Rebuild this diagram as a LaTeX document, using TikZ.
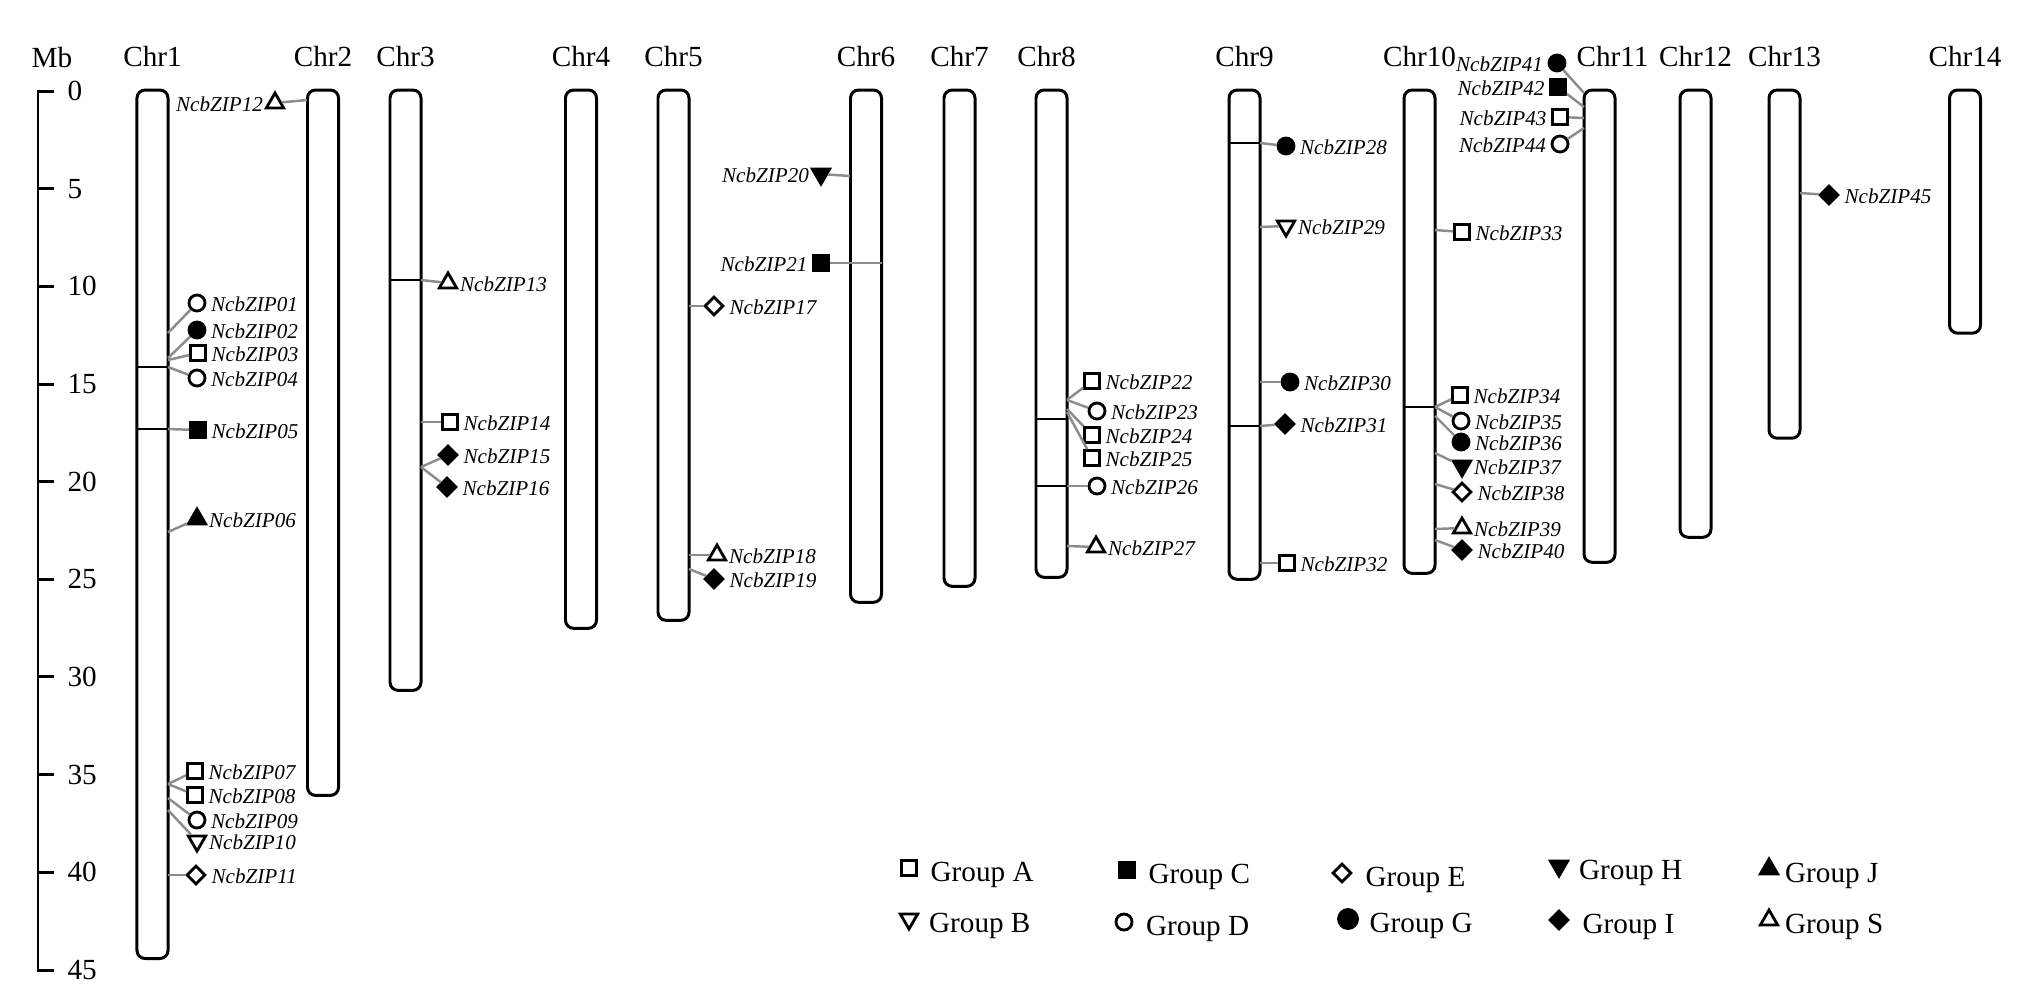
\documentclass[tikz,border=0pt]{standalone}
\usepackage{fontspec}
\setmainfont{Liberation Serif}
\usetikzlibrary{positioning, shapes.geometric}

\begin{document}
\begin{tikzpicture}[x=0.01cm, y=-0.01cm, node distance=0.04cm]
        % Estilos para cromosomas, marcadores y textos
        \tikzstyle{chromosome} = [draw, rectangle, rounded corners=2.3pt, line width=0.85pt, minimum width=0.31cm, inner sep=0pt, outer sep=0pt, anchor=north]
        \tikzstyle{chrLabel} = [inner sep=0pt, font=\fontsize{8.3}{10}\selectfont]
        \tikzstyle{gene} = [inner sep=0pt, yshift=-0.5pt, font=\fontsize{6}{7}\selectfont\itshape]
        \tikzstyle{legendText} = [chrLabel, yshift=-2pt]
        \tikzstyle{link} = [draw, black!45, line width=0.7pt]
        \tikzstyle{locus} = [draw, line width=0.3pt]
        \tikzstyle{ruler} = [draw, line width=0.85pt]
        \tikzstyle{symbol} = [draw, line width=0.8pt, inner sep=0pt]
        \tikzstyle{openSquare} = [symbol, rectangle, minimum size=0.15cm]
        \tikzstyle{fullSquare} = [openSquare, fill=black]
        \tikzstyle{openCircle} = [symbol, circle, minimum size=0.16cm]
        \tikzstyle{fullCircle} = [openCircle, fill=black]
        \tikzstyle{openDiamond} = [symbol, diamond, minimum width=0.19cm, minimum height=0.19cm]
        \tikzstyle{fullDiamond} = [openDiamond, fill=black]
        \tikzstyle{openTriangle} = [symbol, regular polygon, regular polygon sides=3, minimum size=0.2cm]
        \tikzstyle{fullTriangle} = [openTriangle, fill=black]
        \tikzstyle{openInvTriangle} = [openTriangle, shape border rotate=180]
        \tikzstyle{fullInvTriangle} = [openInvTriangle, fill=black]

        \useasboundingbox (0,0) rectangle (2027,996);

        % Escala en Mb
        \node [chrLabel, anchor=base] at (52,67) (mbLabel) {Mb};
        \draw [ruler] (54,91) -- (38,91) -- (38,970) -- (54,970);
        \draw [ruler] (38,91) -- (54,91) node [chrLabel, anchor=west, xshift=0.12cm] (mb0) {0};
        \draw [ruler] (38,188.7) -- (54,188.7) node [chrLabel, anchor=west, xshift=0.12cm] (mb5) {5};
        \draw [ruler] (38,286.3) -- (54,286.3) node [chrLabel, anchor=west, xshift=0.12cm] (mb10) {10};
        \draw [ruler] (38,384) -- (54,384) node [chrLabel, anchor=west, xshift=0.12cm] (mb15) {15};
        \draw [ruler] (38,481.6) -- (54,481.6) node [chrLabel, anchor=west, xshift=0.12cm] (mb20) {20};
        \draw [ruler] (38,579.3) -- (54,579.3) node [chrLabel, anchor=west, xshift=0.12cm] (mb25) {25};
        \draw [ruler] (38,676.9) -- (54,676.9) node [chrLabel, anchor=west, xshift=0.12cm] (mb30) {30};
        \draw [ruler] (38,774.6) -- (54,774.6) node [chrLabel, anchor=west, xshift=0.12cm] (mb35) {35};
        \draw [ruler] (38,872.2) -- (54,872.2) node [chrLabel, anchor=west, xshift=0.12cm] (mb40) {40};
        \draw [ruler] (38,970) -- (54,970) node [chrLabel, anchor=west, xshift=0.12cm] (mb45) {45};

        % Cromosomas
        \node [chromosome, minimum height=8.68cm] at (152.5,90) (chr1) {};
        \node [chromosome, minimum height=7.05cm] at (323,90) (chr2) {};
        \node [chromosome, minimum height=6.00cm] at (405.5,90) (chr3) {};
        \node [chromosome, minimum height=5.38cm] at (581,90) (chr4) {};
        \node [chromosome, minimum height=5.30cm] at (673.5,90) (chr5) {};
        \node [chromosome, minimum height=5.12cm] at (866,90) (chr6) {};
        \node [chromosome, minimum height=4.96cm] at (959.5,90) (chr7) {};
        \node [chromosome, minimum height=4.87cm] at (1051.5,90) (chr8) {};
        \node [chromosome, minimum height=4.89cm] at (1244.5,90) (chr9) {};
        \node [chromosome, minimum height=4.83cm] at (1419.5,90) (chr10) {};
        \node [chromosome, minimum height=4.72cm] at (1599.5,90) (chr11) {};
        \node [chromosome, minimum height=4.47cm] at (1695.5,90) (chr12) {};
        \node [chromosome, minimum height=3.48cm] at (1784.5,90) (chr13) {};
        \node [chromosome, minimum height=2.43cm] at (1965,90) (chr14) {};
        \node [chrLabel, above=0.23cm of chr1] (lblChr1) {Chr1};
        \node [chrLabel, above=0.23cm of chr2] (lblChr2) {Chr2};
        \node [chrLabel, above=0.23cm of chr3] (lblChr3) {Chr3};
        \node [chrLabel, above=0.23cm of chr4] (lblChr4) {Chr4};
        \node [chrLabel, above=0.23cm of chr5] (lblChr5) {Chr5};
        \node [chrLabel, above=0.23cm of chr6] (lblChr6) {Chr6};
        \node [chrLabel, above=0.23cm of chr7] (lblChr7) {Chr7};
        \node [chrLabel, above=0.23cm of chr8, xshift=-0.05cm] (lblChr8) {Chr8};
        \node [chrLabel, above=0.23cm of chr9] (lblChr9) {Chr9};
        \node [chrLabel, above=0.23cm of chr10] (lblChr10) {Chr10};
        \node [chrLabel, above=0.23cm of chr11, xshift=0.13cm] (lblChr11) {Chr11};
        \node [chrLabel, above=0.23cm of chr12] (lblChr12) {Chr12};
        \node [chrLabel, above=0.23cm of chr13] (lblChr13) {Chr13};
        \node [chrLabel, above=0.23cm of chr14] (lblChr14) {Chr14};

        % Puntos de anclaje en los cromosomas
        \node at (168,333) [coordinate] (p01){};
        \node at (168,358) [coordinate] (p02){};
        \node at (168,360) [coordinate] (p03){};
        \node at (168,367) [coordinate] (p04){};
        \node at (168,429) [coordinate] (p05){};
        \node at (168,532) [coordinate] (p06){};
        \node at (168,784) [coordinate] (p07){};
        \node at (168,798) [coordinate] (p09){};
        \node at (168,810) [coordinate] (p10){};
        \node at (168,875) [coordinate] (p11){};
        \node at (307,100) [coordinate] (p12){};
        \node at (421,280) [coordinate] (p13){};
        \node at (421,422) [coordinate] (p14){};
        \node at (421,467) [coordinate] (p15){};
        \node at (689,306) [coordinate] (p17){};
        \node at (689,555) [coordinate] (p18){};
        \node at (689,569) [coordinate] (p19){};
        \node at (850,176) [coordinate] (p20){};
        \node at (850,263) [coordinate] (p21){};
        \node at (1067,400) [coordinate] (p22){};
        \node at (1067,409) [coordinate] (p24){};
        \node at (1067,412) [coordinate] (p25){};
        \node at (1067,419) [coordinate] (q22){};
        \node at (1067,486) [coordinate] (p26){};
        \node at (1067,546) [coordinate] (p27){};
        \node at (1260,143) [coordinate] (p28){};
        \node at (1260,227) [coordinate] (p29){};
        \node at (1260,382) [coordinate] (p30){};
        \node at (1260,426) [coordinate] (p31){};
        \node at (1260,563) [coordinate] (p32){};
        \node at (1435,230) [coordinate] (p33){};
        \node at (1435,407) [coordinate] (p34){};
        \node at (1435,416) [coordinate] (p36){};
        \node at (1435,453) [coordinate] (p37){};
        \node at (1435,484) [coordinate] (p38){};
        \node at (1435,529) [coordinate] (p39){};
        \node at (1435,540) [coordinate] (p40){};
        \node at (1584,93) [coordinate] (p41){};
        \node at (1584,107) [coordinate] (p42){};
        \node at (1584,118) [coordinate] (p43){};
        \node at (1584,128) [coordinate] (p44){};
        \node at (1800,193) [coordinate] (p45){};

        % Genes
        \node [openCircle] at (197,303) (m01) {};
        \node [fullCircle] at (197,330) (m02) {};
        \node [openSquare] at (198,353) (m03) {};
        \node [openCircle] at (197,378) (m04) {};
        \node [fullSquare] at (198,430) (m05) {};
        \node [fullTriangle] at (197,519) (m06) {};
        \node [openSquare] at (195,771) (m07) {};
        \node [openSquare] at (195,795) (m08) {};
        \node [openCircle] at (197,820) (m09) {};
        \node [openInvTriangle] at (197,841) (m10) {};
        \node [openDiamond] at (196,875) (m11) {};
        \node [openTriangle] at (275,103) (m12) {};
        \node [openTriangle] at (448,283) (m13) {};
        \node [openSquare] at (450,422) (m14) {};
        \node [fullDiamond] at (448,455) (m15) {};
        \node [fullDiamond] at (447,487) (m16) {};
        \node [openDiamond] at (714,306) (m17) {};
        \node [openTriangle] at (717,555) (m18) {};
        \node [fullDiamond] at (714,579) (m19) {};
        \node [fullInvTriangle] at (821,174) (m20) {};
        \node [fullSquare] at (821,263) (m21) {};
        \node [openSquare] at (1092,381) (m22) {};
        \node [openCircle] at (1097,411) (m23) {};
        \node [openSquare] at (1092,435) (m24) {};
        \node [openSquare] at (1092,458) (m25) {};
        \node [openCircle] at (1097,486) (m26) {};
        \node [openTriangle] at (1096,547) (m27) {};
        \node [fullCircle] at (1286,146) (m28) {};
        \node [openInvTriangle] at (1286,226) (m29) {};
        \node [fullCircle] at (1290,382) (m30) {};
        \node [fullDiamond] at (1285,424) (m31) {};
        \node [openSquare] at (1287,563) (m32) {};
        \node [openSquare] at (1462,232) (m33) {};
        \node [openSquare] at (1460,395) (m34) {};
        \node [openCircle] at (1461,421) (m35) {};
        \node [fullCircle] at (1461,442) (m36) {};
        \node [fullInvTriangle] at (1462,466) (m37) {};
        \node [openDiamond] at (1462,492) (m38) {};
        \node [openTriangle] at (1462,528) (m39) {};
        \node [fullDiamond] at (1462,550) (m40) {};
        \node [fullCircle] at (1557,63) (m41) {};
        \node [fullSquare] at (1558,87) (m42) {};
        \node [openSquare] at (1560,117) (m43) {};
        \node [openCircle] at (1560,144) (m44) {};
        \node [fullDiamond] at (1829,195) (m45) {};

        \node [gene, right=of m01] (g01) {NcbZIP01};
        \node [gene, right=of m02] (g02) {NcbZIP02};
        \node [gene, right=of m03] (g03) {NcbZIP03};
        \node [gene, right=of m04] (g04) {NcbZIP04};
        \node [gene, right=of m05] (g05) {NcbZIP05};
        \node [gene, right=of m06] (g06) {NcbZIP06};
        \node [gene, right=of m07] (g07) {NcbZIP07};
        \node [gene, right=of m08] (g08) {NcbZIP08};
        \node [gene, right=of m09] (g09) {NcbZIP09};
        \node [gene, right=of m10] (g10) {NcbZIP10};
        \node [gene, right=of m11] (g11) {NcbZIP11};
        \node [gene, left=of m12] (g12) {NcbZIP12};
        \node [gene, right=of m13] (g13) {NcbZIP13};
        \node [gene, right=of m14] (g14) {NcbZIP14};
        \node [gene, right=of m15] (g15) {NcbZIP15};
        \node [gene, right=of m16] (g16) {NcbZIP16};
        \node [gene, right=of m17] (g17) {NcbZIP17};
        \node [gene, right=of m18] (g18) {NcbZIP18};
        \node [gene, right=of m19] (g19) {NcbZIP19};
        \node [gene, left=of m20] (g20) {NcbZIP20};
        \node [gene, left=of m21] (g21) {NcbZIP21};
        \node [gene, right=of m22] (g22) {NcbZIP22};
        \node [gene, right=of m23] (g23) {NcbZIP23};
        \node [gene, right=of m24] (g24) {NcbZIP24};
        \node [gene, right=of m25] (g25) {NcbZIP25};
        \node [gene, right=of m26] (g26) {NcbZIP26};
        \node [gene, right=of m27] (g27) {NcbZIP27};
        \node [gene, right=of m28] (g28) {NcbZIP28};
        \node [gene, right=of m29] (g29) {NcbZIP29};
        \node [gene, right=of m30] (g30) {NcbZIP30};
        \node [gene, right=of m31] (g31) {NcbZIP31};
        \node [gene, right=of m32] (g32) {NcbZIP32};
        \node [gene, right=of m33] (g33) {NcbZIP33};
        \node [gene, right=of m34] (g34) {NcbZIP34};
        \node [gene, right=of m35] (g35) {NcbZIP35};
        \node [gene, right=of m36] (g36) {NcbZIP36};
        \node [gene, right=of m37] (g37) {NcbZIP37};
        \node [gene, right=of m38] (g38) {NcbZIP38};
        \node [gene, right=of m39] (g39) {NcbZIP39};
        \node [gene, right=of m40] (g40) {NcbZIP40};
        \node [gene, left=of m41] (g41) {NcbZIP41};
        \node [gene, left=of m42] (g42) {NcbZIP42};
        \node [gene, left=of m43] (g43) {NcbZIP43};
        \node [gene, left=of m44] (g44) {NcbZIP44};
        \node [gene, right=of m45] (g45) {NcbZIP45};

        % Lineas
        \draw [locus] (chr1.west |- p04) -- (p04);
        \draw [locus] (chr1.west |- p05) -- (p05);
        \draw [locus] (chr3.west |- p13) -- (p13);
        \draw [locus, black!45] (chr6.east |- p21) -- (p21);
        \draw [locus] (chr8.west |- q22) -- (q22);
        \draw [locus] (chr8.west |- p26) -- (p26);
        \draw [locus] (chr9.west |- p28) -- (p28);
        \draw [locus] (chr9.west |- p31) -- (p31);
        \draw [locus] (chr10.west |- p34) -- (p34);
        \draw [link] (p01) -- (m01);
        \draw [link] (p02) -- (m02);
        \draw [link] (p03) -- (m03);
        \draw [link] (p04) -- (m04);
        \draw [link] (p05) -- (m05);
        \draw [link] (p06) -- (m06);
        \draw [link] (p07) -- (m07);
        \draw [link] (p07) -- (m08);
        \draw [link] (p09) -- (m09);
        \draw [link] (p10) -- (m10);
        \draw [link] (p11) -- (m11);
        \draw [link] (p12) -- (m12);
        \draw [link] (p13) -- (m13);
        \draw [link] (p14) -- (m14);
        \draw [link] (p15) -- (m15);
        \draw [link] (p15) -- (m16);
        \draw [link] (p17) -- (m17);
        \draw [link] (p18) -- (m18);
        \draw [link] (p19) -- (m19);
        \draw [link] (p20) -- (m20);
        \draw [link] (p21) -- (m21);
        \draw [link] (p22) -- (m22);
        \draw [link] (p22) -- (m23);
        \draw [link] (p24) -- (m24);
        \draw [link] (p25) -- (m25);
        \draw [link] (p26) -- (m26);
        \draw [link] (p27) -- (m27);
        \draw [link] (p28) -- (m28);
        \draw [link] (p29) -- (m29);
        \draw [link] (p30) -- (m30);
        \draw [link] (p31) -- (m31);
        \draw [link] (p32) -- (m32);
        \draw [link] (p33) -- (m33);
        \draw [link] (p34) -- (m34);
        \draw [link] (p34) -- (m35);
        \draw [link] (p36) -- (m36);
        \draw [link] (p37) -- (m37);
        \draw [link] (p38) -- (m38);
        \draw [link] (p39) -- (m39);
        \draw [link] (p40) -- (m40);
        \draw [link] (p41) -- (m41);
        \draw [link] (p42) -- (m42);
        \draw [link] (p43) -- (m43);
        \draw [link] (p44) -- (m44);
        \draw [link] (p45) -- (m45);

        % Leyenda
        \node [openSquare] at (909,868) (lgA) {};
        \node [fullSquare] at (1127,870) (lgC) {};
        \node [openDiamond] at (1342,873) (lgE) {};
        \node [fullInvTriangle] at (1559,866) (lgH) {};
        \node [fullTriangle] at (1769,869) (lgJ) {};
        \node [openInvTriangle] at (909,919) (lgB) {};
        \node [openCircle] at (1124,922) (lgD) {};
        \node [fullCircle, minimum size=0.19cm] at (1348,919) (lgG) {};
        \node [fullDiamond] at (1559,920) (lgI) {};
        \node [openTriangle] at (1769,920) (lgS) {};
        \node [legendText, right=0.12cm of lgA] (txtA) {Group A};
        \node [legendText, right=0.12cm of lgC] (txtC) {Group C};
        \node [legendText, right=0.12cm of lgE] (txtE) {Group E};
        \node [legendText, right=0.12cm of lgH] (txtH) {Group H};
        \node [legendText, right=0.08cm of lgJ] (txtJ) {Group J};
        \node [legendText, right=0.12cm of lgB] (txtB) {Group B};
        \node [legendText, right=0.12cm of lgD] (txtD) {Group D};
        \node [legendText, right=0.10cm of lgG] (txtG) {Group G};
        \node [legendText, right=0.12cm of lgI] (txtI) {Group I};
        \node [legendText, right=0.08cm of lgS] (txtS) {Group S};

      \end{tikzpicture}
\end{document}
